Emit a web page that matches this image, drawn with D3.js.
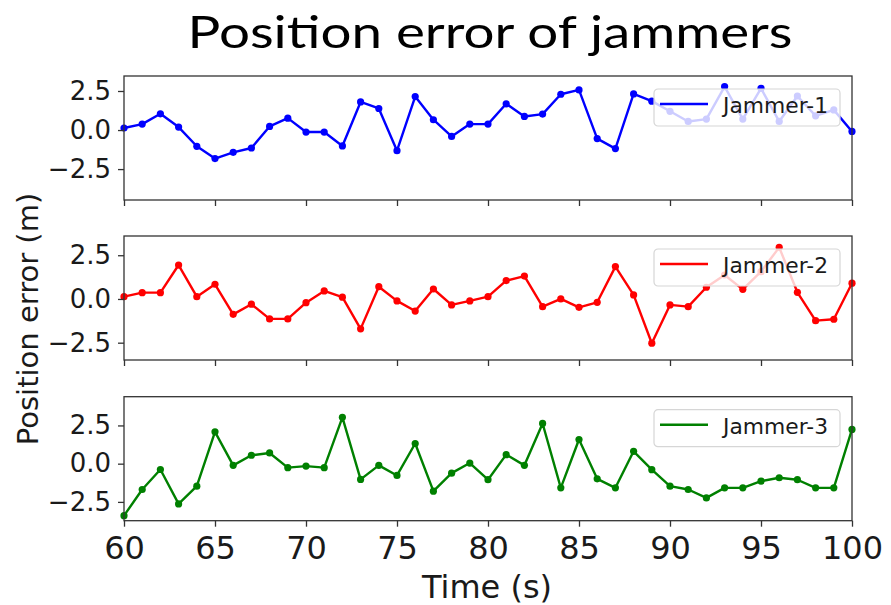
<!DOCTYPE html>
<html>
<head>
<meta charset="utf-8">
<script src="https://cdn.jsdelivr.net/npm/d3@7"></script>
<style>
  body { margin: 0; background: #fff; }
  text { font-family: "DejaVu Sans", sans-serif; fill: #1a1a1a; }
</style>
</head>
<body>
<div id="chart"></div>
<script>
const times = [60, 61, 62, 63, 64, 65, 66, 67, 68, 69, 70, 71, 72, 73, 74, 75, 76, 77, 78, 79,
  80, 81, 82, 83, 84, 85, 86, 87, 88, 89, 90, 91, 92, 93, 94, 95, 96, 97, 98, 99, 100];
const jammer1 = [0.13, 0.38, 1.04, 0.19, -1.04, -1.83, -1.43, -1.15, 0.23, 0.76,
  -0.13, -0.13, -1.02, 1.80, 1.38, -1.32, 2.14, 0.66, -0.41, 0.38,
  0.38, 1.68, 0.87, 1.02, 2.29, 2.57, -0.55, -1.19, 2.31, 1.85,
  1.2, 0.55, 0.70, 2.78, 0.70, 2.67, 0.55, 2.18, 0.91, 1.29, -0.09];
const jammer2 = [0.13, 0.36, 0.36, 1.94, 0.13, 0.84, -0.88, -0.30, -1.14, -1.14,
  -0.21, 0.46, 0.10, -1.71, 0.70, -0.11, -0.69, 0.57, -0.34, -0.11,
  0.13, 1.05, 1.31, -0.44, 0.0, -0.48, -0.19, 1.85, 0.23, -2.53,
  -0.34, -0.44, 0.67, 1.37, 0.55, 1.56, 2.95, 0.38, -1.24, -1.16, 0.9];
const jammer3 = [-3.40, -1.69, -0.38, -2.63, -1.47, 2.08, -0.11, 0.55, 0.70, -0.26,
  -0.16, -0.26, 3.03, -1.03, -0.11, -0.77, 1.32, -1.80, -0.62, 0.04,
  -1.05, 0.59, -0.11, 2.63, -1.58, 1.58, -0.99, -1.58, 0.81, -0.39,
  -1.47, -1.69, -2.24, -1.58, -1.58, -1.14, -0.92, -1.05, -1.58, -1.58, 2.24];
const seriesNames = ['Jammer-1', 'Jammer-2', 'Jammer-3'];
const seriesColors = ['#0000ff', '#ff0000', '#008000'];
const yDomains = [[-4.48, 3.46], [-3.49, 3.6], [-3.73, 4.38]];
const xTicks = [60, 65, 70, 75, 80, 85, 90, 95, 100];
const yTicks = [-2.5, 0, 2.5];

const width = 891;
const height = 605;
const left = 124;
const right = 852;
const panelTops = [76, 236, 396.7];
const panelH = 124;

const svg = d3.select('#chart').append('svg')
  .attr('width', width)
  .attr('height', height);

const x = d3.scaleLinear().domain([60, 100]).range([left, right]);

// title
svg.append('text')
  .attr('x', 490)
  .attr('y', 48)
  .attr('text-anchor', 'middle')
  .attr('textLength', 605)
  .attr('lengthAdjust', 'spacingAndGlyphs')
  .style('font-family', 'Lato, "Open Sans", sans-serif')
  .style('font-size', '45px')
  .style('fill', '#000')
  .text('Position error of jammers');

const allSeries = [jammer1, jammer2, jammer3];

allSeries.forEach((values, i) => {
  const top = panelTops[i];
  const y = d3.scaleLinear().domain(yDomains[i]).range([top + panelH, top]);
  const g = svg.append('g');

  const line = d3.line()
    .x((d, j) => x(times[j]))
    .y((d) => y(d));

  g.append('path')
    .datum(values)
    .attr('d', line)
    .attr('fill', 'none')
    .attr('stroke', seriesColors[i])
    .attr('stroke-width', 2.4)
    .attr('stroke-linejoin', 'round');

  g.selectAll('circle')
    .data(values)
    .enter()
    .append('circle')
    .attr('cx', (d, j) => x(times[j]))
    .attr('cy', (d) => y(d))
    .attr('r', 3.6)
    .attr('fill', seriesColors[i]);

  // frame
  g.append('rect')
    .attr('x', left)
    .attr('y', top)
    .attr('width', right - left)
    .attr('height', panelH)
    .attr('fill', 'none')
    .attr('stroke', '#333')
    .attr('stroke-width', 1.3);

  const yAxis = g.append('g')
    .attr('transform', `translate(${left},0)`)
    .call(d3.axisLeft(y).tickValues(yTicks).tickFormat(d3.format('.1f')).tickSize(6).tickPadding(7));
  yAxis.select('.domain').remove();
  yAxis.selectAll('line').attr('stroke', '#333').attr('stroke-width', 1.3);
  yAxis.selectAll('text')
    .style('font-size', '26px')
    .style('font-family', '"DejaVu Sans", sans-serif')
    .attr('fill', '#1a1a1a');

  const xAxis = g.append('g')
    .attr('transform', `translate(0,${top + panelH})`)
    .call(d3.axisBottom(x).tickValues(xTicks).tickSize(6).tickPadding(10));
  xAxis.select('.domain').remove();
  xAxis.selectAll('line').attr('stroke', '#333').attr('stroke-width', 1.3);
  xAxis.selectAll('text')
    .style('font-size', '32px')
    .style('font-family', '"DejaVu Sans", sans-serif')
    .attr('fill', '#1a1a1a');
  if (i < 2) xAxis.selectAll('text').remove();

  // legend
  const lg = g.append('g').attr('transform', `translate(654,${top + 13})`);
  lg.append('rect')
    .attr('width', 186)
    .attr('height', 37)
    .attr('rx', 4)
    .attr('fill', 'rgba(255,255,255,0.8)')
    .attr('stroke', '#d6d6d6')
    .attr('stroke-width', 1.2);
  lg.append('line')
    .attr('x1', 6).attr('x2', 54)
    .attr('y1', 15).attr('y2', 15)
    .attr('stroke', seriesColors[i])
    .attr('stroke-width', 2.4);
  lg.append('text')
    .attr('x', 69)
    .attr('y', 24)
    .attr('textLength', 105)
    .attr('lengthAdjust', 'spacingAndGlyphs')
    .style('font-size', '21px')
    .text(seriesNames[i]);
});

svg.append('text')
  .attr('transform', 'translate(38,319) rotate(-90)')
  .attr('text-anchor', 'middle')
  .style('font-size', '29px')
  .text('Position error (m)');

svg.append('text')
  .attr('x', 487)
  .attr('y', 598)
  .attr('text-anchor', 'middle')
  .style('font-size', '32px')
  .text('Time (s)');
</script>
</body>
</html>
